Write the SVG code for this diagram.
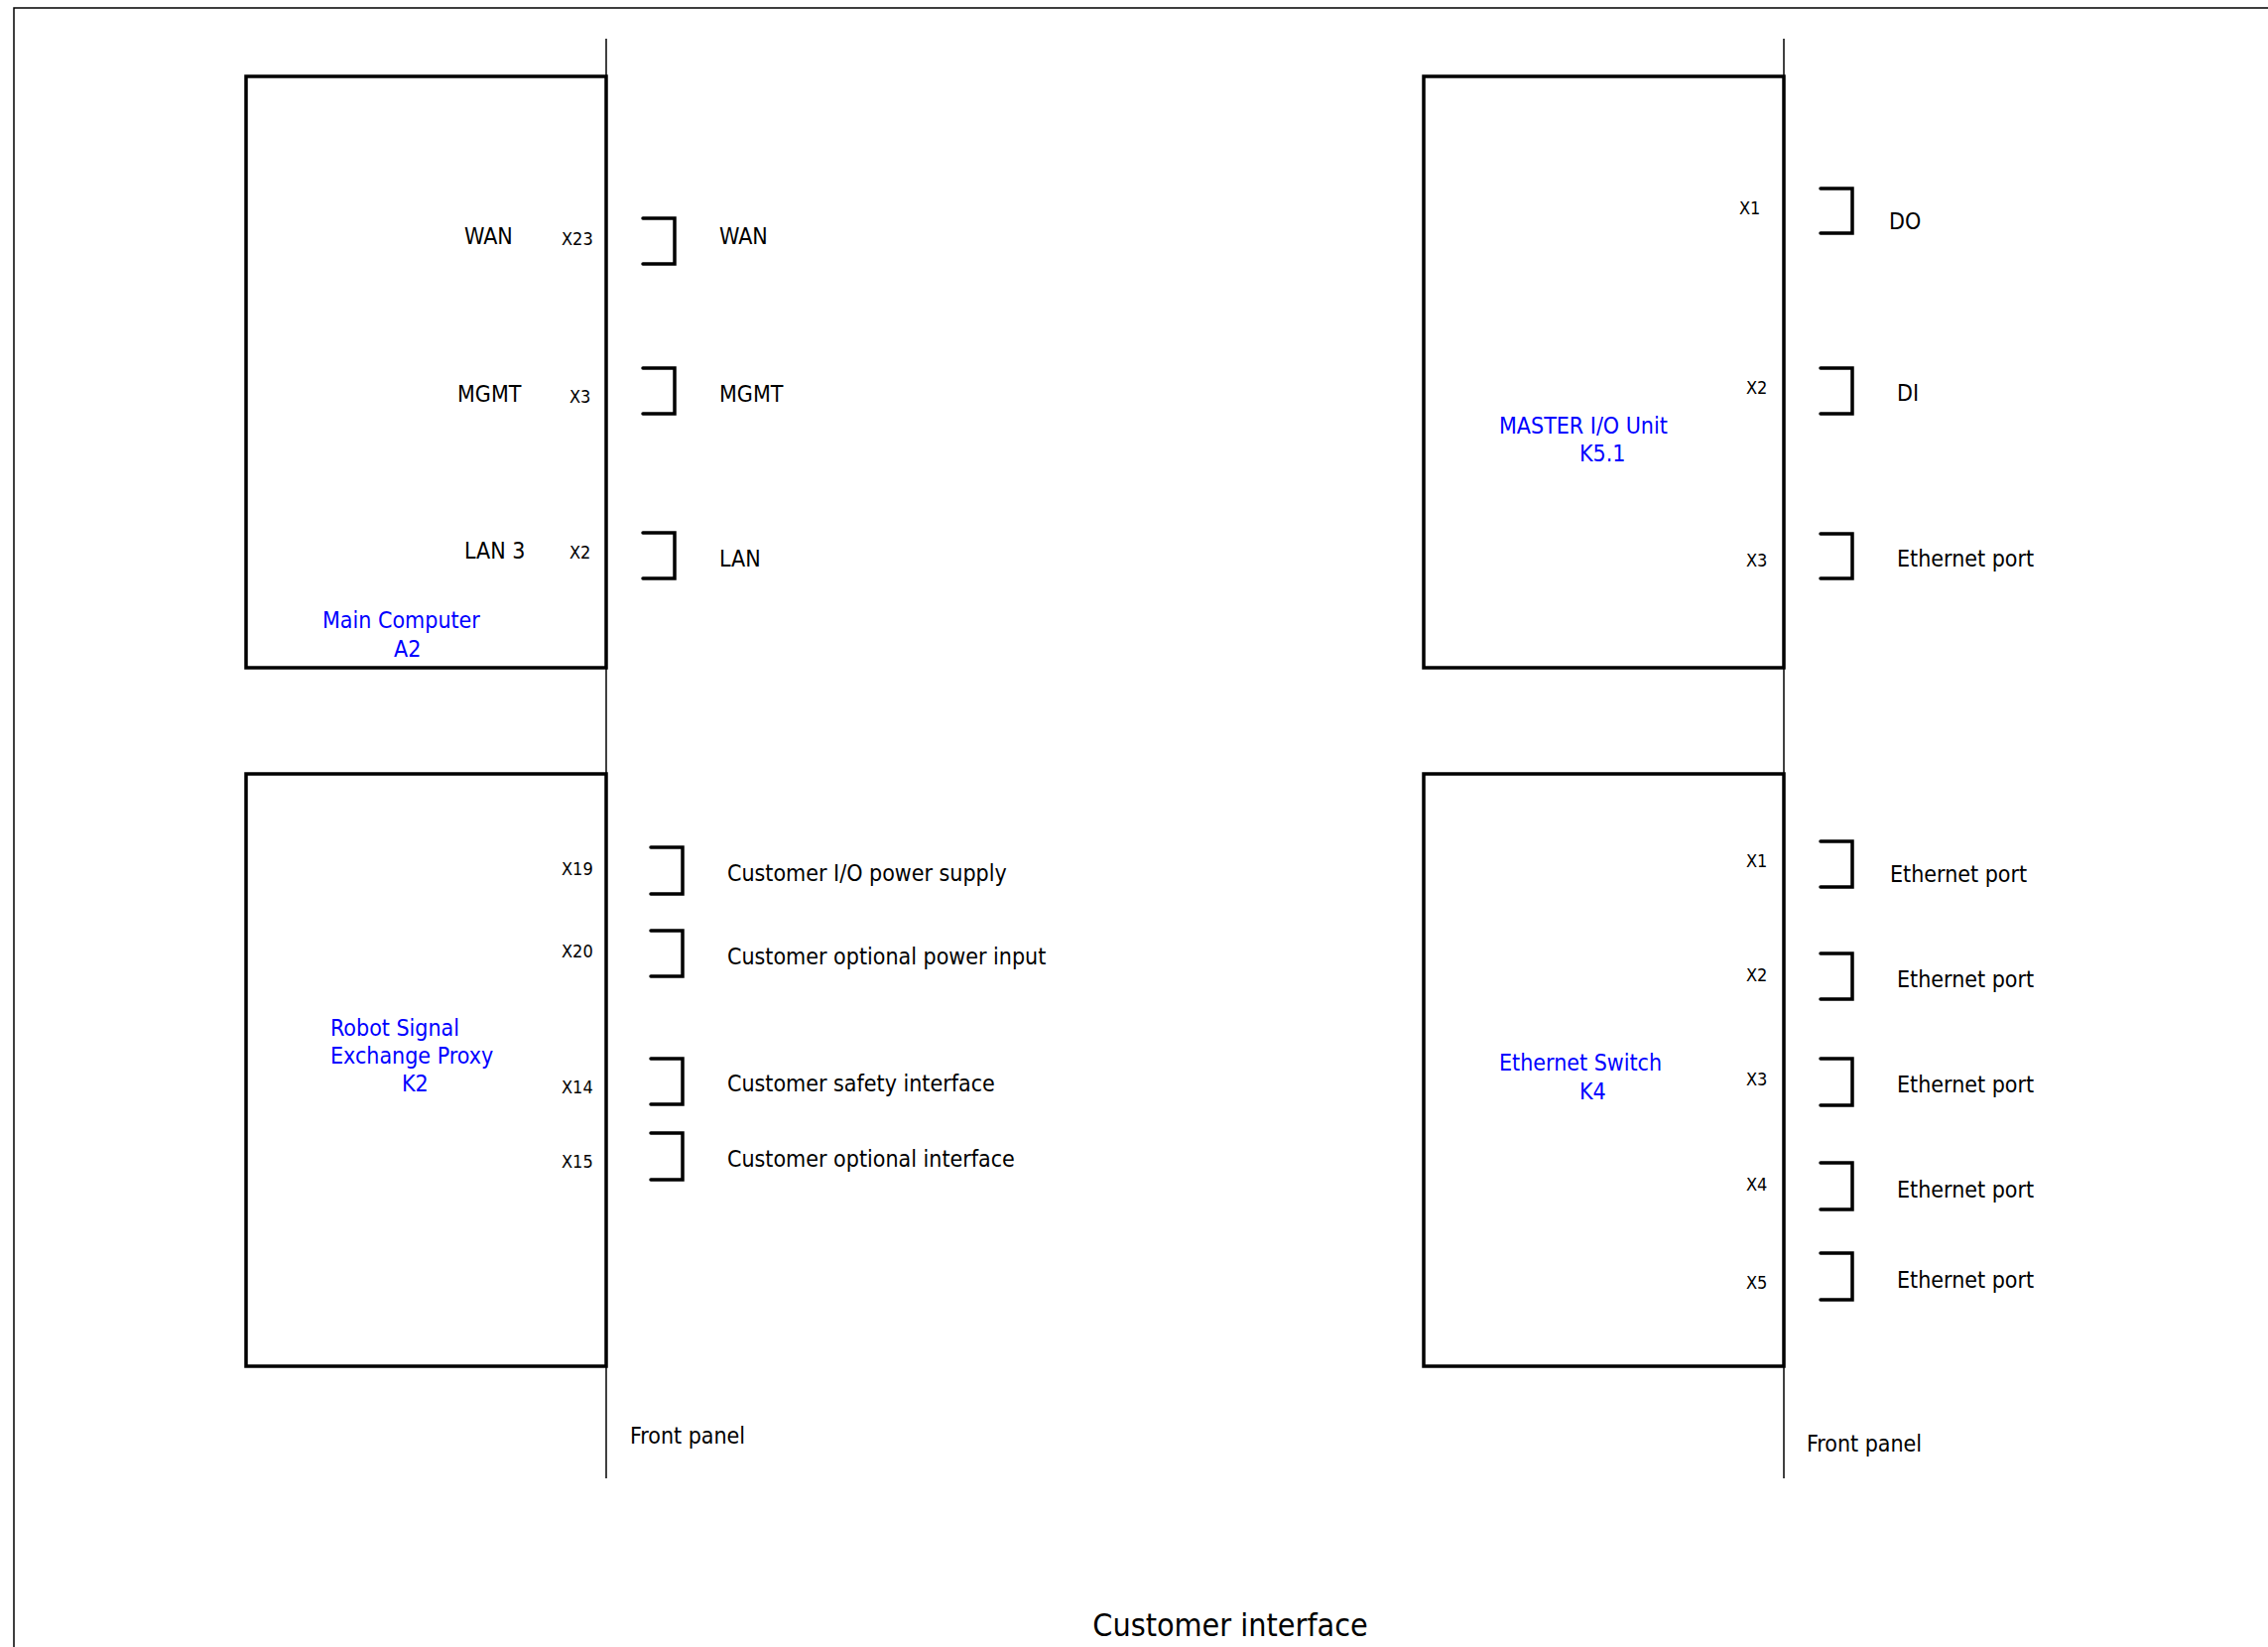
<svg xmlns="http://www.w3.org/2000/svg" width="2286" height="1660" viewBox="0 0 2286 1660">
<style>
text{font-family:"DejaVu Sans Condensed","DejaVu Sans","Liberation Sans",sans-serif;fill:#000}
.lbl{font-size:23px}
.pin{font-size:18px}
.name{font-size:23px;fill:#0000ff}
.title{font-size:32px}
.box{fill:none;stroke:#000;stroke-width:3.5}
.panel{fill:none;stroke:#000;stroke-width:1.5}
.brk{fill:none;stroke:#000;stroke-width:3.5;stroke-linecap:round;stroke-linejoin:miter}
</style>
<rect width="2286" height="1660" fill="#fff"/>
<path class="panel" d="M14,1660 V8 H2286"/>
<g id="connectors">
<line class="panel" x1="611" y1="39" x2="611" y2="1490"/>
<line class="panel" x1="1798" y1="39" x2="1798" y2="1490"/>
</g>
<g id="main-computer">
<rect class="box" x="248" y="77" width="363" height="596"/>
<text class="lbl" x="468" y="246">WAN</text>
<text class="lbl" x="461" y="405">MGMT</text>
<text class="lbl" x="468" y="563">LAN 3</text>
<text class="pin" x="566" y="247">X23</text>
<text class="pin" x="574" y="406">X3</text>
<text class="pin" x="574" y="563">X2</text>
<text class="name" x="325" y="633">Main Computer</text>
<text class="name" x="397" y="662">A2</text>
<path class="brk" d="M648,220 H680 V266 H648"/>
<path class="brk" d="M648,371 H680 V417 H648"/>
<path class="brk" d="M648,537 H680 V583 H648"/>
<text class="lbl" x="725" y="246">WAN</text>
<text class="lbl" x="725" y="405">MGMT</text>
<text class="lbl" x="725" y="571">LAN</text>
</g>
<g id="robot-signal-exchange-proxy">
<rect class="box" x="248" y="780" width="363" height="597"/>
<text class="pin" x="566" y="882">X19</text>
<text class="pin" x="566" y="965">X20</text>
<text class="pin" x="566" y="1102">X14</text>
<text class="pin" x="566" y="1177">X15</text>
<text class="name" x="333" y="1044">Robot Signal</text>
<text class="name" x="333" y="1072">Exchange Proxy</text>
<text class="name" x="405" y="1100">K2</text>
<path class="brk" d="M656,854 H688 V901 H656"/>
<path class="brk" d="M656,938 H688 V984 H656"/>
<path class="brk" d="M656,1067 H688 V1113 H656"/>
<path class="brk" d="M656,1142 H688 V1189 H656"/>
<text class="lbl" x="733" y="888">Customer I/O power supply</text>
<text class="lbl" x="733" y="972">Customer optional power input</text>
<text class="lbl" x="733" y="1100">Customer safety interface</text>
<text class="lbl" x="733" y="1176">Customer optional interface</text>
<text class="lbl" x="635" y="1455">Front panel</text>
</g>
<g id="master-io-unit">
<rect class="box" x="1435" y="77" width="363" height="596"/>
<text class="pin" x="1753" y="216">X1</text>
<text class="pin" x="1760" y="397">X2</text>
<text class="pin" x="1760" y="571">X3</text>
<text class="name" x="1511" y="437">MASTER I/O Unit</text>
<text class="name" x="1592" y="465">K5.1</text>
<path class="brk" d="M1835,190 H1867 V235 H1835"/>
<path class="brk" d="M1835,371 H1867 V417 H1835"/>
<path class="brk" d="M1835,538 H1867 V583 H1835"/>
<text class="lbl" x="1904" y="231">DO</text>
<text class="lbl" x="1912" y="404">DI</text>
<text class="lbl" x="1912" y="571">Ethernet port</text>
</g>
<g id="ethernet-switch">
<rect class="box" x="1435" y="780" width="363" height="597"/>
<text class="pin" x="1760" y="874">X1</text>
<text class="pin" x="1760" y="989">X2</text>
<text class="pin" x="1760" y="1094">X3</text>
<text class="pin" x="1760" y="1200">X4</text>
<text class="pin" x="1760" y="1299">X5</text>
<text class="name" x="1511" y="1079">Ethernet Switch</text>
<text class="name" x="1592" y="1108">K4</text>
<path class="brk" d="M1835,848 H1867 V894 H1835"/>
<path class="brk" d="M1835,961 H1867 V1007 H1835"/>
<path class="brk" d="M1835,1067 H1867 V1114 H1835"/>
<path class="brk" d="M1835,1172 H1867 V1219 H1835"/>
<path class="brk" d="M1835,1263 H1867 V1310 H1835"/>
<text class="lbl" x="1905" y="889">Ethernet port</text>
<text class="lbl" x="1912" y="995">Ethernet port</text>
<text class="lbl" x="1912" y="1101">Ethernet port</text>
<text class="lbl" x="1912" y="1207">Ethernet port</text>
<text class="lbl" x="1912" y="1298">Ethernet port</text>
<text class="lbl" x="1821" y="1463">Front panel</text>
</g>
<text class="title" x="1240" y="1649" text-anchor="middle">Customer interface</text>
</svg>
